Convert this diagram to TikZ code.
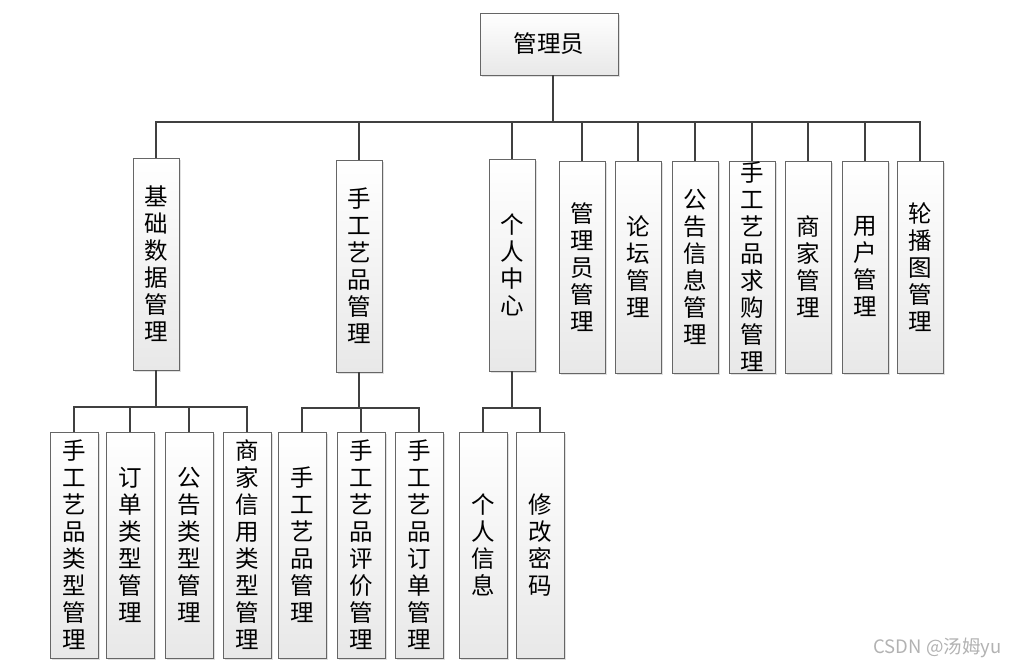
\documentclass[tikz,border=0pt]{standalone}
\usepackage{fontspec}
\setmainfont{Noto Sans CJK SC}
\usetikzlibrary{shadows}

\begin{document}
\begin{tikzpicture}[x=1pt,y=-1pt,
    box/.style={draw=black!60, line width=0.8pt, top color=white, bottom color=black!9,
        drop shadow={shadow xshift=2pt, shadow yshift=-2pt, fill=black!30, opacity=0.4},
        align=center, inner xsep=0pt, inner ysep=0pt, font=\fontsize{23.5}{27}\selectfont},
    lvone/.style={box, minimum width=46pt, minimum height=212pt},
    lvtwo/.style={box, minimum width=48pt, minimum height=226pt},
    link/.style={draw=black!75, line width=1.2pt}]
    \useasboundingbox (0,0) rectangle (1011,666);

    % top
    \node[box, minimum width=138pt, minimum height=62pt] (root) at (549,44) {管理员};

    % first level
    \node[lvone] (jc) at (156,264) {基\\础\\数\\据\\管\\理};
    \node[lvone] (sg) at (359,266) {手\\工\\艺\\品\\管\\理};
    \node[lvone] (gr) at (512,265) {个\\人\\中\\心};
    \node[lvone] (gly) at (582,267) {管\\理\\员\\管\\理};
    \node[lvone] (lt) at (638,267) {论\\坛\\管\\理};
    \node[lvone] (gg) at (695,267) {公\\告\\信\\息\\管\\理};
    \node[lvone] (qg) at (752,267) {手\\工\\艺\\品\\求\\购\\管\\理};
    \node[lvone] (sj) at (808,267) {商\\家\\管\\理};
    \node[lvone] (yh) at (865,267) {用\\户\\管\\理};
    \node[lvone] (lb) at (920,267) {轮\\播\\图\\管\\理};

    % second level
    \node[lvtwo] (lx) at (74,545) {手\\工\\艺\\品\\类\\型\\管\\理};
    \node[lvtwo] (dd) at (130,545) {订\\单\\类\\型\\管\\理};
    \node[lvtwo] (gl) at (189,545) {公\\告\\类\\型\\管\\理};
    \node[lvtwo] (xy) at (247,545) {商\\家\\信\\用\\类\\型\\管\\理};
    \node[lvtwo] (sp) at (302,545) {手\\工\\艺\\品\\管\\理};
    \node[lvtwo] (pj) at (361,545) {手\\工\\艺\\品\\评\\价\\管\\理};
    \node[lvtwo] (dg) at (419,545) {手\\工\\艺\\品\\订\\单\\管\\理};
    \node[lvtwo] (xx) at (483,545) {个\\人\\信\\息};
    \node[lvtwo] (mm) at (540,545) {修\\改\\密\\码};

    % connectors
    \coordinate (bar) at (553,122);
    \draw[link] (bar |- root.south) -- (bar);
    \foreach \n in {jc,sg,gr,gly,lt,gg,qg,sj,yh,lb}
        \draw[link] (\n.north) |- (bar);

    \coordinate (jcbar) at (156,407);
    \draw[link] (jc.south) -- (jcbar);
    \foreach \n in {lx,dd,gl,xy}
        \draw[link] (\n.north) |- (jcbar);

    \coordinate (sgbar) at (359,408);
    \draw[link] (sg.south) -- (sgbar);
    \foreach \n in {sp,pj,dg}
        \draw[link] (\n.north) |- (sgbar);

    \coordinate (grbar) at (512,408);
    \draw[link] (gr.south) -- (grbar);
    \foreach \n in {xx,mm}
        \draw[link] (\n.north) |- (grbar);

    % watermark
    \node[text=black!30, font=\fontsize{18.5}{18.5}\selectfont, anchor=east] (wm) at (1005,648) {CSDN @汤姆yu};
\end{tikzpicture}
\end{document}
